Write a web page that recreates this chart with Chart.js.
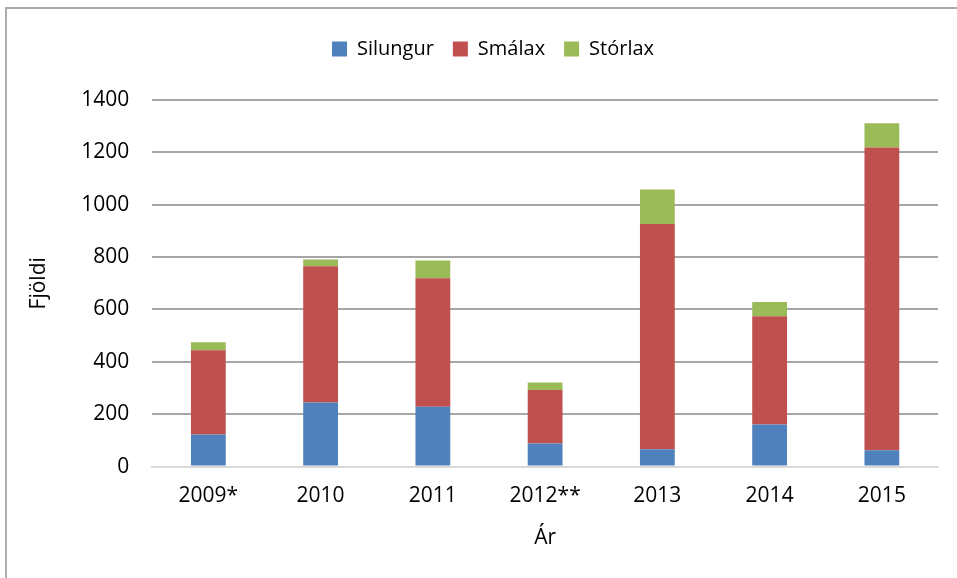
<!DOCTYPE html>
<html><head><meta charset="utf-8">
<script src="https://cdn.jsdelivr.net/npm/chart.js@4/dist/chart.umd.min.js"></script>
<style>
html,body{margin:0;padding:0;background:#fff;}
#wrap{position:absolute;left:0;top:0;width:957px;height:578px;overflow:hidden;}
#frame{position:absolute;left:5px;top:7px;width:980px;height:600px;border:2px solid #ababab;box-sizing:border-box;}
canvas{position:absolute;left:0;top:0;}
</style></head><body>
<div id="wrap"><div id="frame"></div><canvas id="c" width="957" height="578"></canvas></div>
<script>
const categories = ["2009*","2010","2011","2012**","2013","2014","2015"];
const silungur = [123,245,229,88,66,161,62];
const smalax = [321,520,490,205,860,413,1157];
const storlax = [31,26,68,28,132,55,92];
const yTicks = [0,200,400,600,800,1000,1200,1400];

const FONT = "'Open Sans','Liberation Sans',Arial,sans-serif";
Chart.defaults.font.family = FONT;
Chart.defaults.color = '#000';

const legendGap = {
  id:'legendGap',
  beforeInit(chart){
    const orig = chart.legend.fit;
    chart.legend.fit = function(){ orig.bind(chart.legend)(); this.height += 31; };
  },
  afterLayout(chart){
    chart.legend.left += 13;
    chart.legend.right += 13;
  }
};

new Chart(document.getElementById('c'), {
  type: 'bar',
  data: {
    labels: categories,
    datasets: [
      {label:'Silungur', data:silungur, backgroundColor:'#4f81bd', borderWidth:0},
      {label:'Smálax', data:smalax, backgroundColor:'#c0504d', borderWidth:0},
      {label:'Stórlax', data:storlax, backgroundColor:'#9bbb59', borderWidth:0}
    ]
  },
  plugins:[legendGap],
  options: {
    responsive:false,
    animation:false,
    devicePixelRatio:1,
    datasets:{bar:{categoryPercentage:1,barPercentage:0.31}},
    layout:{padding:{left:22,right:19,top:20,bottom:23}},
    plugins:{
      legend:{
        position:'top',
        labels:{boxWidth:15,boxHeight:15,font:{size:20},padding:19,color:'#000'}
      },
      tooltip:{enabled:false}
    },
    scales:{
      x:{
        stacked:true,
        grid:{display:false,drawTicks:false},
        border:{color:'#d9d9d9',width:2},
        ticks:{font:{size:21},padding:17,color:'#000'},
        title:{display:true,text:'Ár',font:{size:21},padding:{top:0},color:'#000'}
      },
      y:{
        stacked:true,
        min:0,max:1400,
        afterBuildTicks:(s)=>{s.ticks=yTicks.map(v=>({value:v}));},
        grid:{color:'#a6a6a6',lineWidth:2,drawTicks:false},
        border:{display:false},
        ticks:{font:{size:21},padding:23,color:'#000',callback:(v)=>String(v)},
        title:{display:true,text:'Fjöldi',font:{size:21},padding:{bottom:7},color:'#000'}
      }
    }
  }
});
</script>
</body></html>
